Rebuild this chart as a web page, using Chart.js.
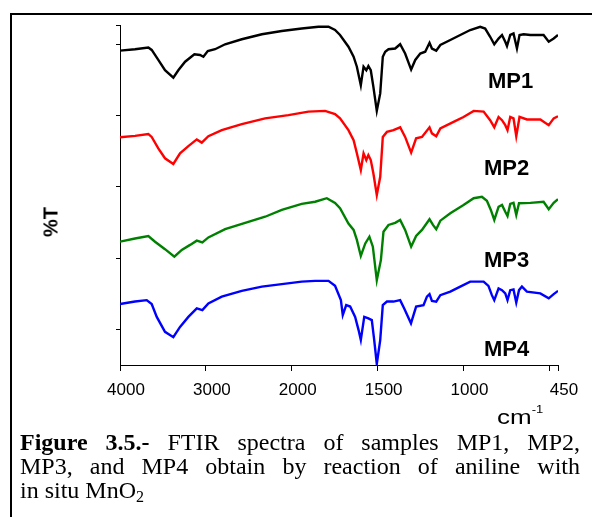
<!DOCTYPE html>
<html>
<head>
<meta charset="utf-8">
<script src="https://cdn.jsdelivr.net/npm/chart.js@4.4.0/dist/chart.umd.min.js"></script>
<style>
  body { margin: 0; background: #fff; width: 592px; height: 517px; overflow: hidden; position: relative;
         font-family: "Liberation Sans", Arial, sans-serif; color: #000; }
  #frame { position: absolute; left: 10px; top: 13px; width: 600px; height: 520px;
           border-left: 2px solid #000; border-top: 2px solid #000; }
  #plot { position: absolute; left: 0; top: 0; }
  .mp { position: absolute; font-weight: bold; font-size: 22px; line-height: 22px; }
  #ylab { position: absolute; left: 51px; top: 222px; font-weight: bold; font-size: 20px;
          transform: translate(-50%, -50%) rotate(-90deg); }
  #xlab { position: absolute; left: 497px; top: 406px; font-size: 26px; line-height: 26px;
          transform: scaleY(0.8); transform-origin: 0 0; white-space: nowrap; }
  #xlab span { position: relative; top: -13px; font-size: 13px; }
  #caption { position: absolute; left: 20px; top: 430px; width: 560px;
             font-family: "Liberation Serif", "Times New Roman", serif; font-size: 24px; line-height: 24px; }
  .j { text-align: justify; text-align-last: justify; white-space: nowrap; }
  sub { font-size: 16px; line-height: 0; vertical-align: -4px; }
</style>
</head>
<body>
<div id="frame"></div>
<canvas id="plot" width="592" height="400"></canvas>
<div class="mp" style="left:488px;top:70px">MP1</div>
<div class="mp" style="left:484px;top:157px">MP2</div>
<div class="mp" style="left:484px;top:249px">MP3</div>
<div class="mp" style="left:484px;top:338px">MP4</div>
<div id="ylab">%T</div>
<div id="xlab">cm<span>-1</span></div>
<div id="caption">
  <div class="j"><b>Figure 3.5.-</b> FTIR spectra of samples MP1, MP2,</div>
  <div class="j">MP3, and MP4 obtain by reaction of aniline with</div>
  <div>in situ MnO<sub>2</sub></div>
</div>
<script>
// wavenumbers (cm-1) and transmittance, offset per sample
const mp1Wn = [4000,3825,3670,3631,3554,3476,3379,3321,3242,3134,3068,3029,2978,2893,2776,2582,2348,2116,1942,1845,
  1786,1748,1719,1670,1640,1621,1598,1582,1566,1554,1540,1525,1505,1485,1470,1456,1437,1398,1369,1340,
  1305,1281,1252,1223,1198,1184,1159,1135,1077,1019,961,903,874,845,821,796,776,757,747,728,
  709,689,674,650,611,534,504,475,450];
const mp1T = [88.2,88.6,89.1,88.4,85.6,82.7,80.6,82.7,85.1,87.2,87.0,86.5,88.1,88.6,90.0,91.4,92.8,93.7,94.4,94.9,
  94.9,94.0,92.6,89.3,86.5,83.7,78.5,83.7,82.7,83.9,82.7,78.1,71.3,76.2,86.5,87.9,88.6,88.8,90.0,87.4,
  82.9,85.6,87.4,87.9,90.4,88.8,88.2,89.8,91.2,92.6,94.0,94.9,94.4,92.1,90.0,91.6,92.6,90.7,89.5,92.6,
  93.0,88.8,92.6,92.8,92.6,92.6,90.7,91.6,92.6];

const mp2Wn = [4000,3825,3670,3631,3554,3476,3379,3301,3204,3106,3048,2971,2815,2582,2310,2039,1903,1806,1748,1719,
  1670,1640,1621,1598,1582,1566,1554,1540,1525,1505,1485,1470,1446,1408,1369,1340,1305,1276,1242,1198,
  1184,1159,1135,1058,1000,941,883,845,821,796,776,757,744,728,709,693,674,631,553,504,475,450];
const mp2T = [63.9,64.3,64.8,64.0,60.8,58.0,56.4,59.4,61.4,63.3,62.4,64.2,65.9,67.6,69.2,70.1,71.1,71.3,70.4,69.2,
  65.9,63.1,59.4,54.7,59.4,57.5,58.9,57.5,53.8,47.7,52.8,64.0,65.4,65.9,66.7,64.0,59.6,63.6,64.0,66.7,
  65.0,64.2,66.4,68.2,69.6,71.3,71.1,68.7,66.7,69.6,68.7,67.3,65.9,69.6,69.2,64.2,69.6,68.9,68.9,67.3,69.2,69.8];

const mp3Wn = [4000,3825,3670,3592,3476,3367,3281,3184,3106,3041,2971,2776,2543,2310,2116,1942,1864,1796,1748,1719,
  1670,1640,1621,1598,1572,1548,1528,1505,1481,1466,1437,1398,1369,1340,1305,1276,1242,1198,1178,1159,
  1135,1077,1000,941,893,864,841,821,796,776,757,744,728,709,693,677,611,534,504,475,450];
const mp3T = [34.6,35.5,36.2,34.6,32.5,30.4,32.3,33.7,34.9,34.4,35.8,38.1,39.9,41.6,43.5,45.2,45.8,46.8,45.5,44.0,
  39.7,37.9,35.1,30.6,34.1,36.0,33.2,23.8,29.5,37.4,39.3,39.9,40.7,37.9,33.2,36.2,37.9,40.9,39.3,38.1,
  40.5,42.6,44.9,46.8,47.2,46.1,43.5,40.7,44.4,44.9,43.0,41.8,45.2,45.5,42.1,45.4,45.5,45.8,43.7,45.5,46.5];

const mp4Wn = [4000,3825,3689,3631,3572,3476,3379,3301,3204,3106,3041,2971,2815,2582,2348,2116,1942,1864,1786,1748,
  1714,1703,1683,1660,1631,1611,1598,1578,1554,1534,1520,1505,1485,1470,1446,1408,1369,1346,1306,1276,
  1233,1213,1198,1184,1159,1135,1077,1019,961,883,855,835,821,796,776,757,744,728,709,693,
  677,660,631,553,504,475,450];
const mp4T = [17.1,17.8,18.2,17.1,13.5,9.3,7.8,10.7,13.5,15.9,15.4,17.3,19.2,20.8,22.0,22.7,23.4,23.6,23.6,22.2,
  18.2,14.0,16.8,16.4,13.5,9.8,7.0,13.5,13.1,12.6,7.0,0.3,7.0,16.8,17.8,17.8,18.2,15.9,11.7,16.4,
  16.8,19.2,19.9,18.0,17.8,19.6,20.6,22.0,23.4,23.4,22.2,19.6,18.2,21.5,21.0,20.1,18.2,21.0,21.2,17.5,
  21.0,22.0,20.6,20.1,18.7,19.9,20.8];

const xTickWn = [4000, 3000, 2000, 1500, 1000, 500, 450];
const xTickLabels = ['4000', '3000', '2000', '1500', '1000', '', '450'];
const yTicks = [10, 30, 50, 70, 90, 95.4];

// usual FTIR axis: 4000-2000 squeezed to half scale, below 2000 full scale
function axisPos(wn) {
  return wn >= 2000 ? (4000 - wn) / 2 : 1000 + (2000 - wn);
}

const series = [
  { wn: mp1Wn, t: mp1T, color: '#000000' },
  { wn: mp2Wn, t: mp2T, color: '#ff0000' },
  { wn: mp3Wn, t: mp3T, color: '#008000' },
  { wn: mp4Wn, t: mp4T, color: '#0000ff' }
];

const tickFont = { family: '"Liberation Sans", Arial, sans-serif', size: 17 };

new Chart(document.getElementById('plot'), {
  type: 'line',
  data: {
    datasets: series.map(s => ({
      data: s.wn.map((w, i) => ({ x: axisPos(w), y: s.t[i] })),
      borderColor: s.color,
      borderWidth: 2.4,
      pointRadius: 0,
      tension: 0,
      fill: false
    }))
  },
  options: {
    responsive: false,
    animation: false,
    devicePixelRatio: 1,
    layout: { padding: { left: 80, top: 25, right: 34, bottom: 0 } },
    plugins: { legend: { display: false }, tooltip: { enabled: false } },
    scales: {
      x: {
        type: 'linear',
        min: 0,
        max: axisPos(450),
        afterBuildTicks: s => { s.ticks = xTickWn.map(w => ({ value: axisPos(w) })); },
        afterFit: s => { s.height = 35; s.paddingLeft = 0; s.paddingRight = 0; },
        ticks: {
          autoSkip: false, maxRotation: 0, labelOffset: 6, padding: 9,
          color: '#000', font: tickFont,
          callback: (v, i) => xTickLabels[i]
        },
        grid: { drawOnChartArea: false, tickLength: 6, color: '#000' },
        border: { color: '#000', width: 1 }
      },
      y: {
        min: 0,
        max: 95.4,
        afterBuildTicks: s => { s.ticks = yTicks.map(v => ({ value: v })); },
        afterFit: s => { s.width = 40; },
        ticks: { display: false },
        grid: { drawOnChartArea: false, tickLength: 4, color: '#000' },
        border: { color: '#000', width: 1 }
      }
    }
  }
});
</script>
</body>
</html>
